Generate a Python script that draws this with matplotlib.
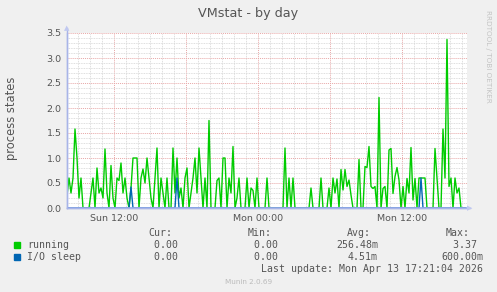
import numpy as np
import pandas as pd
import matplotlib
matplotlib.use("Agg")
import matplotlib.pyplot as plt
import matplotlib.dates as mdates
from matplotlib.patches import Rectangle
from matplotlib.ticker import MultipleLocator, FuncFormatter

# data, one sample every 10 minutes
start = pd.Timestamp("2026-04-12 08:05")
end = pd.Timestamp("2026-04-13 17:25")
running = [
    0.25, 0.6, 0.3, 0.6, 1.58, 1.0, 0.2, 0.6, 0.0, 0.0,
    0.0, 0.0, 0.3, 0.6, 0.0, 0.8, 0.3, 0.4, 0.2, 1.18,
    0.3, 0.0, 0.85, 0.2, 0.0, 0.6, 0.55, 0.9, 0.3, 0.6,
    0.2, 0.0, 0.4, 1.0, 1.0, 1.0, 0.0, 0.6, 0.78, 0.5,
    1.0, 0.6, 0.2, 0.0, 0.6, 1.2, 0.0, 0.6, 0.3, 0.0,
    0.6, 0.0, 0.0, 1.2, 0.3, 1.0, 0.2, 0.4, 0.0, 0.6,
    0.8, 0.0, 0.3, 0.6, 1.0, 0.3, 1.2, 0.6, 0.0, 0.6,
    0.0, 1.75, 0.0, 0.0, 0.0, 0.55, 0.6, 0.0, 1.0, 1.0,
    0.0, 0.6, 0.3, 1.23, 0.0, 0.2, 0.6, 0.0, 0.0, 0.0,
    0.6, 0.0, 0.4, 0.35, 0.0, 0.6, 0.0, 0.0, 0.0, 0.0,
    0.6, 0.0, 0.0, 0.0, 0.0, 0.0, 0.0, 0.0, 0.0, 1.2,
    0.0, 0.6, 0.0, 0.6, 0.0, 0.0, 0.0, 0.0, 0.0, 0.0,
    0.0, 0.0, 0.4, 0.0, 0.0, 0.0, 0.0, 0.6, 0.0, 0.0,
    0.0, 0.4, 0.0, 0.6, 0.3, 0.58, 0.0, 0.77, 0.36, 0.77,
    0.43, 0.56, 0.26, 0.0, 0.0, 0.0, 0.97, 0.0, 0.0, 0.83,
    0.81, 1.23, 0.43, 0.39, 0.43, 0.0, 2.21, 0.0, 0.39, 0.43,
    0.0, 1.16, 1.19, 0.29, 0.63, 0.81, 0.56, 0.0, 0.43, 0.0,
    0.59, 0.3, 1.21, 0.16, 0.59, 0.0, 0.6, 0.6, 0.6, 0.6,
    0.0, 0.0, 0.0, 0.0, 1.19, 0.6, 0.0, 0.0, 1.58, 0.6,
    3.37, 0.43, 0.6, 0.0, 0.6, 0.3, 0.4, 0.0, 0.0, 0.0,
]
io_sleep = [0.0] * len(running)
io_sleep[32] = 0.42
io_sleep[55] = 0.6
io_sleep[177] = 0.6
times = pd.date_range(start, periods=len(running), freq="10min")

header = ["Cur:", "Min:", "Avg:", "Max:"]
series_names = ["running", "I/O sleep"]
series_colors = ["#00CC00", "#0066B3"]
stats = [
    ["0.00 ", "0.00 ", "256.48m", "3.37 "],
    ["0.00 ", "0.00 ", "4.51m", "600.00m"],
]
last_update = "Last update: Mon Apr 13 17:21:04 2026"

W, H = 497, 292
def fx(x):
    return x / W
def fy(y):
    return 1 - y / H

fig = plt.figure(figsize=(W / 100, H / 100), dpi=100, facecolor="#F0F0F0")
ax = fig.add_axes([fx(67), fy(208), fx(400), 175 / H])
ax.set_facecolor("white")

ax.plot(times, running, color=series_colors[0], lw=1.0, zorder=3)
ax.plot(times, io_sleep, color=series_colors[1], lw=1.0, zorder=4)

ax.set_xlim(start, end)
ax.set_ylim(0, 3.5)

# grid
ax.xaxis.set_major_locator(mdates.HourLocator(byhour=[0, 6, 12, 18]))
ax.xaxis.set_minor_locator(mdates.HourLocator())
def xfmt(v, pos):
    d = mdates.num2date(v)
    return d.strftime("%a %H:%M") if d.hour in (0, 12) else ""
ax.xaxis.set_major_formatter(FuncFormatter(xfmt))
ax.yaxis.set_major_locator(MultipleLocator(0.5))
ax.yaxis.set_minor_locator(MultipleLocator(0.1))
ax.yaxis.set_major_formatter(FuncFormatter(lambda v, p: f"{v:.1f}"))
ax.grid(which="minor", color="#D4D4D4", ls=(0, (1, 1)), lw=0.6)
ax.grid(which="major", color="#E8A8A8", ls=(0, (1, 1)), lw=0.7)
ax.set_axisbelow(True)
ax.tick_params(which="both", length=0, labelsize=6.8, colors="#555555", pad=4)

for s in ["top", "right"]:
    ax.spines[s].set_visible(False)
for s in ["left", "bottom"]:
    ax.spines[s].set_color("#A8B4E8")
    ax.spines[s].set_linewidth(1.0)
ax.axhline(0, color="#8FA8E8", lw=1.2, zorder=5)

# axis arrows
fig.add_artist(plt.Line2D([fx(67), fx(67)], [fy(208), fy(28)], color="#A8B4E8", lw=1.0))
fig.add_artist(plt.Line2D([fx(67), fx(470)], [fy(208), fy(208)], color="#A8B4E8", lw=1.0))
fig.text(fx(67), fy(28), "\u25B2", fontsize=5, color="#C0C8F0", ha="center", va="center")
fig.text(fx(470), fy(208), "\u25B6", fontsize=5, color="#C0C8F0", ha="center", va="center")

fig.text(fx(12), fy(118), "process states", fontsize=8.3, color="#555555",
         rotation=90, ha="center", va="center")
fig.text(0.5, fy(13), "VMstat - by day", fontsize=9.2, color="#555555", ha="center", va="center")
fig.text(fx(488), fy(56), "RRDTOOL / TOBI OETIKER", fontsize=5.2, color="#C4C4C4",
         rotation=270, ha="center", va="center")

# legend block
mono = "DejaVu Sans Mono"
cols_head = [172, 272, 371, 470]
cols_val = [184, 284, 378, 483]
for h, x in zip(header, cols_head):
    fig.text(fx(x), fy(233), h, family=mono, fontsize=7.1, color="#555555", ha="right", va="center")
for i, (name, col) in enumerate(zip(series_names, series_colors)):
    y = 245 + 12 * i
    fig.add_artist(Rectangle((fx(14), fy(y + 3)), 6 / W, 6 / H, color=col, transform=fig.transFigure))
    fig.text(fx(27), fy(y), name, family=mono, fontsize=7.1, color="#555555", ha="left", va="center")
    for v, x in zip(stats[i], cols_val):
        fig.text(fx(x), fy(y), v, family=mono, fontsize=7.1, color="#555555", ha="right", va="center")
fig.text(fx(483), fy(269), last_update, family=mono, fontsize=7.1, color="#555555", ha="right", va="center")
fig.text(fx(249), fy(282), "Munin 2.0.69", fontsize=5.2, color="#BBBBBB", ha="center", va="center")

fig.savefig("out.png", dpi=100, facecolor=fig.get_facecolor())
